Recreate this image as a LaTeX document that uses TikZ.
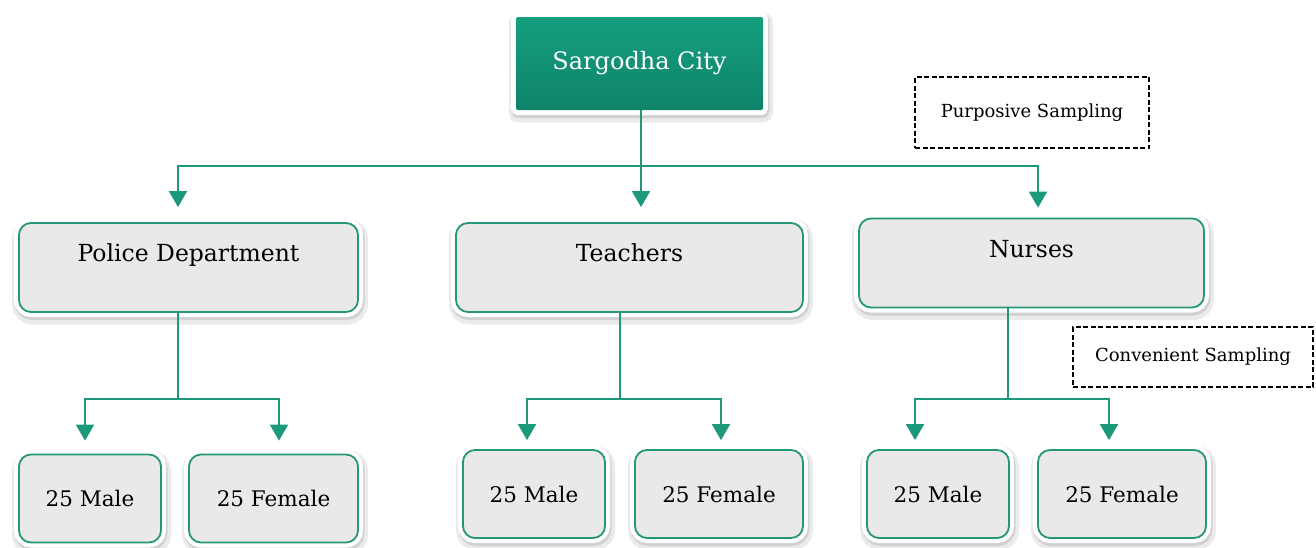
\documentclass[tikz,border=0pt]{standalone}
\usepackage{fontspec}
\setmainfont{DejaVu Serif}
\usepackage{tikz}
\usetikzlibrary{arrows.meta}
\usetikzlibrary{calc}

\definecolor{cityteal}{RGB}{17,145,117}
\definecolor{citytop}{RGB}{22,158,127}
\definecolor{citybottom}{RGB}{14,132,106}
\definecolor{boxgray}{RGB}{233,233,233}
\definecolor{rimteal}{RGB}{38,150,120}
\definecolor{linkteal}{RGB}{28,152,122}

\begin{document}
\begin{tikzpicture}[x=1pt, y=-1pt,
    link/.style = {draw=linkteal, line width=2pt},
    arr/.style = {link, -{Triangle[width=18pt, length=16pt]}},
    rim/.style = {preaction={fill=black!8, draw=black!8, line width=17pt, transform canvas={xshift=1.5pt, yshift=-4pt}},
                  preaction={fill=black!18, draw=black!18, line width=11pt, transform canvas={xshift=1pt, yshift=-2.5pt}},
                  preaction={fill=white, draw=white, line width=10pt}},
    city/.style = {rim, rectangle, rounded corners=2pt, top color=citytop, bottom color=citybottom, text=white, inner sep=0pt,
                   minimum width=247pt, minimum height=93pt, font=\fontsize{24}{28}\selectfont},
    group/.style = {rim, rectangle, rounded corners=12pt, draw=rimteal, line width=1.8pt, fill=boxgray,
                    inner sep=0pt, text height=38.5pt, text depth=50.5pt, font=\fontsize{23.5}{28}\selectfont},
    leaf/.style = {rim, rectangle, rounded corners=12pt, draw=rimteal, line width=1.8pt, fill=boxgray,
                   inner sep=0pt, minimum width=142pt, minimum height=88pt, font=\fontsize{21.5}{26}\selectfont},
    sampling/.style = {draw=black, line width=1.5pt, dash pattern=on 5pt off 2.5pt, inner sep=0pt,
                       font=\fontsize{18}{22}\selectfont}]

    \useasboundingbox (0,0) rectangle (1316,547);

    \node [city] (city) at (639.5, 63.5) {Sargodha City};

    \node [group, minimum width=339pt] (police) at (188.5, 267.5) {Police Department};
    \node [group, minimum width=347pt] (teachers) at (629.5, 267.5) {Teachers};
    \node [group, minimum width=345pt] (nurses) at (1031.5, 263) {Nurses};

    \node [leaf] (pmale) at (90, 498.5) {25 Male};
    \node [leaf, minimum width=169pt] (pfemale) at (273.5, 498.5) {25 Female};
    \node [leaf] (tmale) at (534, 494) {25 Male};
    \node [leaf, minimum width=168pt] (tfemale) at (719, 494) {25 Female};
    \node [leaf] (nmale) at (938, 494) {25 Male};
    \node [leaf, minimum width=168pt] (nfemale) at (1122, 494) {25 Female};

    \node [sampling, minimum width=234pt, minimum height=71pt] (purposive) at (1032, 112.5) {Purposive Sampling};
    \node [sampling, minimum width=240pt, minimum height=60pt] (convenient) at (1193, 357) {Convenient Sampling};

    \coordinate (bus) at (641, 166);
    \coordinate (pfork) at (178, 399);
    \coordinate (tfork) at (620, 399);
    \coordinate (nfork) at (1008, 399);

    \draw[link] (city.south -| bus) -- (bus);
    \draw[arr] (bus) -| ([shift={(-10.5,-15)}]police.north);
    \draw[arr] (bus) -- ([shift={(11.5,-15)}]teachers.north);
    \draw[arr] (bus) -| ([shift={(6.5,-10)}]nurses.north);

    \draw[link] (police.south -| pfork) -- (pfork);
    \draw[arr] (pfork) -| ([shift={(-5,-13)}]pmale.north);
    \draw[arr] (pfork) -| ([shift={(5.5,-13)}]pfemale.north);

    \draw[link] (teachers.south -| tfork) -- (tfork);
    \draw[arr] (tfork) -| ([shift={(-7,-9)}]tmale.north);
    \draw[arr] (tfork) -| ([shift={(2,-9)}]tfemale.north);

    \draw[link] (nurses.south -| nfork) -- (nfork);
    \draw[arr] (nfork) -| ([shift={(-23,-9)}]nmale.north);
    \draw[arr] (nfork) -| ([shift={(-13,-9)}]nfemale.north);

\end{tikzpicture}
\end{document}
